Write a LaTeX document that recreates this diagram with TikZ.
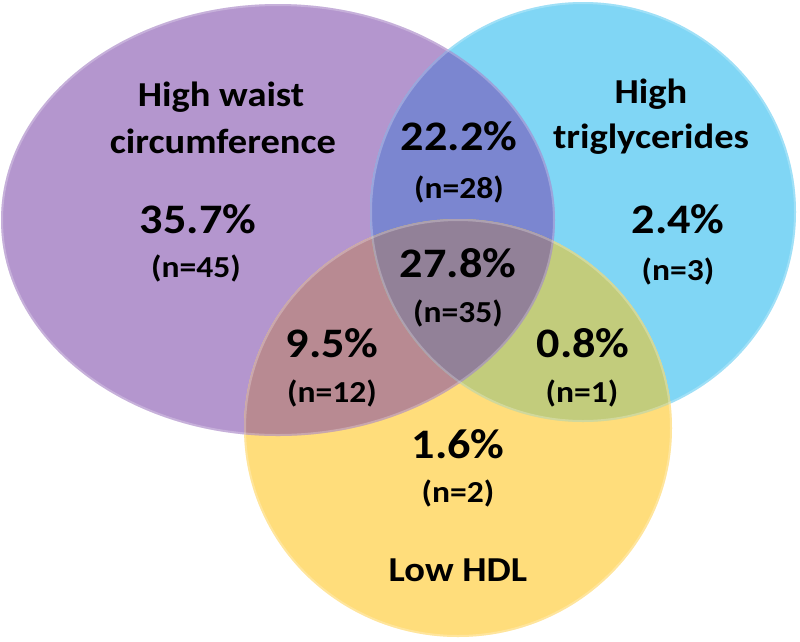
\documentclass[tikz,border=0pt]{standalone}
\usepackage{fontspec}
\newfontfamily\cf{Carlito}[FakeStretch=1.1]
\definecolor{cP}{HTML}{B496CE}
\definecolor{cB}{HTML}{80D6F5}
\definecolor{cY}{HTML}{FFDD7B}
\definecolor{cPB}{HTML}{7B86D0}
\definecolor{cPY}{HTML}{B88A92}
\definecolor{cBY}{HTML}{C2CC7C}
\definecolor{cPBY}{HTML}{928198}
\tikzset{
  lbl/.style={anchor=base,inner sep=0pt,font=\cf\bfseries\fontsize{35}{40}\selectfont},
  pct/.style={anchor=base,inner sep=0pt,font=\cf\bfseries\fontsize{42}{46}\selectfont},
  cnt/.style={anchor=base,inner sep=0pt,font=\cf\bfseries\fontsize{30.5}{34}\selectfont},
}
\def\purple{(278,220) ellipse [x radius=277pt, y radius=216pt]}
\def\blue{(583,212) ellipse [x radius=213pt, y radius=210pt]}
\def\yellow{(458,428) ellipse [x radius=214pt, y radius=209pt]}
\begin{document}
\begin{tikzpicture}[x=1pt,y=-1pt]
\useasboundingbox[fill=white] (0,0) rectangle (800,641);
% base sets
\fill[cP] \purple;
\fill[cB] \blue;
\fill[cY] \yellow;
% pairwise overlaps
\begin{scope}\clip \purple; \fill[cPB] \blue; \end{scope}
\begin{scope}\clip \purple; \fill[cPY] \yellow; \end{scope}
\begin{scope}\clip \blue; \fill[cBY] \yellow; \end{scope}
\begin{scope}\clip \purple; \clip \blue; \fill[cPBY] \yellow; \end{scope}
% soft rims
\begin{scope}\clip \purple; \draw[white,opacity=0.25,line width=4pt] \purple; \end{scope}
\begin{scope}\clip \blue; \draw[white,opacity=0.25,line width=4pt] \blue; \end{scope}
\begin{scope}\clip \yellow; \draw[white,opacity=0.25,line width=4pt] \yellow; \end{scope}
% labels
\node[lbl] (w1) at (221,106) {High waist};
\node[lbl] (w2) at (223,153) {circumference};
\node[pct] (p1) at (198,233) {35.7\%};
\node[cnt] (n1) at (196,277) {(n=45)};
\node[lbl] (t1) at (651,103) {High};
\node[lbl] (t2) at (651,148) {triglycerides};
\node[pct] (p2) at (678,233) {2.4\%};
\node[cnt] (n2) at (678,280) {(n=3)};
\node[pct] (p3) at (459,150) {22.2\%};
\node[cnt] (n3) at (459,198) {(n=28)};
\node[pct] (p4) at (458,277) {27.8\%};
\node[cnt] (n4) at (458,322) {(n=35)};
\node[pct] (p5) at (332,357) {9.5\%};
\node[cnt] (n5) at (332,402) {(n=12)};
\node[pct] (p6) at (583,357) {0.8\%};
\node[cnt] (n6) at (582,402) {(n=1)};
\node[pct] (p7) at (458,458) {1.6\%};
\node[cnt] (n7) at (458,502) {(n=2)};
\node[lbl] (h1) at (458,581) {Low HDL};
\end{tikzpicture}
\end{document}
